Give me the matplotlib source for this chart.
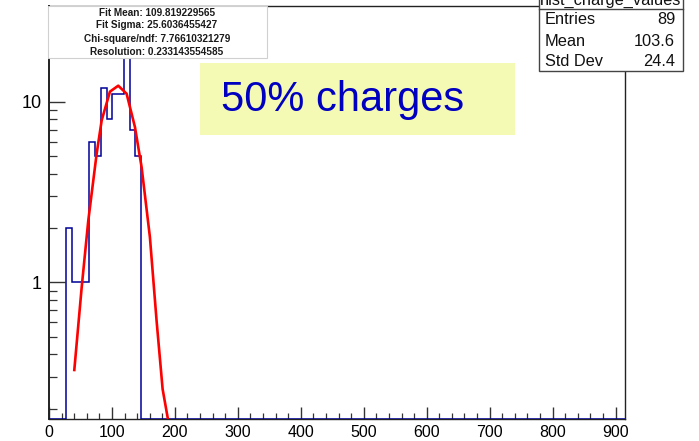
import numpy as np
import matplotlib.pyplot as plt
from matplotlib.patches import Rectangle
from matplotlib.ticker import MultipleLocator, LogLocator, NullFormatter

# Histogram: 100 bins between 0 and 915, only bins 3..15 filled
n_bins = 100
x_max = 915
first_bin = 3
counts = [2, 1, 1, 1, 6, 5, 12, 8, 11, 11, 18, 7, 5]

# Gaussian fit curve
fit_x = [40.2, 51.9, 62.4, 75.7, 83.7, 96.8, 110.0, 123.3, 136.5, 147.1, 160.3, 170.9, 180.5, 189.4, 195.0]
fit_y = [0.327, 0.938, 2.20, 5.17, 7.91, 11.4, 12.3, 11.1, 7.26, 4.35, 1.78, 0.613, 0.256, 0.171, 0.12]

fit_lines = ["Fit Mean: 109.819229565",
             "Fit Sigma: 25.6036455427",
             "Chi-square/ndf: 7.76610321279",
             "Resolution: 0.233143554585"]
stats_names = ["Entries", "Mean", "Std Dev"]
stats_values = ["89", "103.6", "24.4"]

plt.rcParams['font.family'] = ['Liberation Sans', 'DejaVu Sans']

W, H = 699, 441
y_min, y_max = 0.175, 34.0


def fig_xy(x, y):
    return x / W, 1 - y / H


fig = plt.figure(figsize=(W / 100, H / 100), dpi=100)
ax = fig.add_axes([49 / W, 1 - 419 / H, (625 - 49) / W, (419 - 6) / H])

edges = np.linspace(0, x_max, n_bins + 1)
full = np.zeros(n_bins)
full[first_bin:first_bin + len(counts)] = counts
ax.stairs(np.maximum(full, y_min), edges, baseline=y_min,
          color='#000099', lw=1.1, zorder=3)
ax.plot(fit_x, fit_y, color='red', lw=1.9, zorder=4)

ax.set_yscale('log')
ax.set_xlim(0, x_max)
ax.set_ylim(y_min, y_max)

ax.xaxis.set_major_locator(MultipleLocator(100))
ax.xaxis.set_minor_locator(MultipleLocator(20))
ax.yaxis.set_major_locator(LogLocator(base=10, subs=[1.0]))
ax.yaxis.set_minor_locator(LogLocator(base=10, subs=np.arange(2, 10)))
ax.yaxis.set_minor_formatter(NullFormatter())
ax.yaxis.set_major_formatter(plt.FuncFormatter(lambda v, p: f"{v:g}"))

ax.tick_params(axis='x', which='major', direction='in', length=8.5, width=1.0,
               labelsize=11.5, pad=4, color='#333333')
ax.tick_params(axis='x', which='minor', direction='in', length=4.3, width=0.9, color='#333333')
ax.tick_params(axis='y', which='major', direction='in', length=11.5, width=1.0,
               labelsize=13, pad=5, color='#333333')
ax.tick_params(axis='y', which='minor', direction='in', length=5.8, width=0.9, color='#333333')
for s in ax.spines.values():
    s.set_color('#222222')
    s.set_linewidth(1.0)
ax.spines['left'].set_linewidth(1.4)

# fit result pave (top left)
x0, y0 = fig_xy(48, 58)
x1, y1 = fig_xy(267, 6)
fig.add_artist(Rectangle((x0, y0), x1 - x0, y1 - y0, transform=fig.transFigure,
                         facecolor='white', edgecolor='#d0d0d0', lw=0.8))
for line, yy in zip(fit_lines, [13.5, 25.5, 38.5, 52]):
    fig.text(*fig_xy(157, yy), line, ha='center', va='center',
             fontsize=7.2, fontweight='bold', color='#1a1a1a')

# label box
x0, y0 = fig_xy(200, 135)
x1, y1 = fig_xy(515, 63)
fig.add_artist(Rectangle((x0, y0), x1 - x0, y1 - y0, transform=fig.transFigure,
                         facecolor='#f4f9b4', edgecolor='none'))
fig.text(*fig_xy(221, 100), "50% charges", ha='left', va='center',
         fontsize=30, color='#0000c0')

# stats box (top right)
x0, y0 = fig_xy(539, 71)
x1, y1 = fig_xy(683, -5)
fig.add_artist(Rectangle((x0, y0), x1 - x0, y1 - y0, transform=fig.transFigure,
                         facecolor='white', edgecolor='#444444', lw=1.0))
fig.add_artist(plt.Line2D([539 / W, 683 / W], [1 - 9.3 / H] * 2,
                          transform=fig.transFigure, color='#444444', lw=1.0))
fig.text(*fig_xy(611, 0), "hist_charge_values", ha='center', va='center',
         fontsize=11.8, color='#111111')
for name, val, yy in zip(stats_names, stats_values, [20, 41, 62]):
    fig.text(*fig_xy(545, yy), name, ha='left', va='center', fontsize=11.8, color='#111111')
    fig.text(*fig_xy(675, yy), val, ha='right', va='center', fontsize=11.8, color='#111111')

fig.savefig('out.png', dpi=100)
